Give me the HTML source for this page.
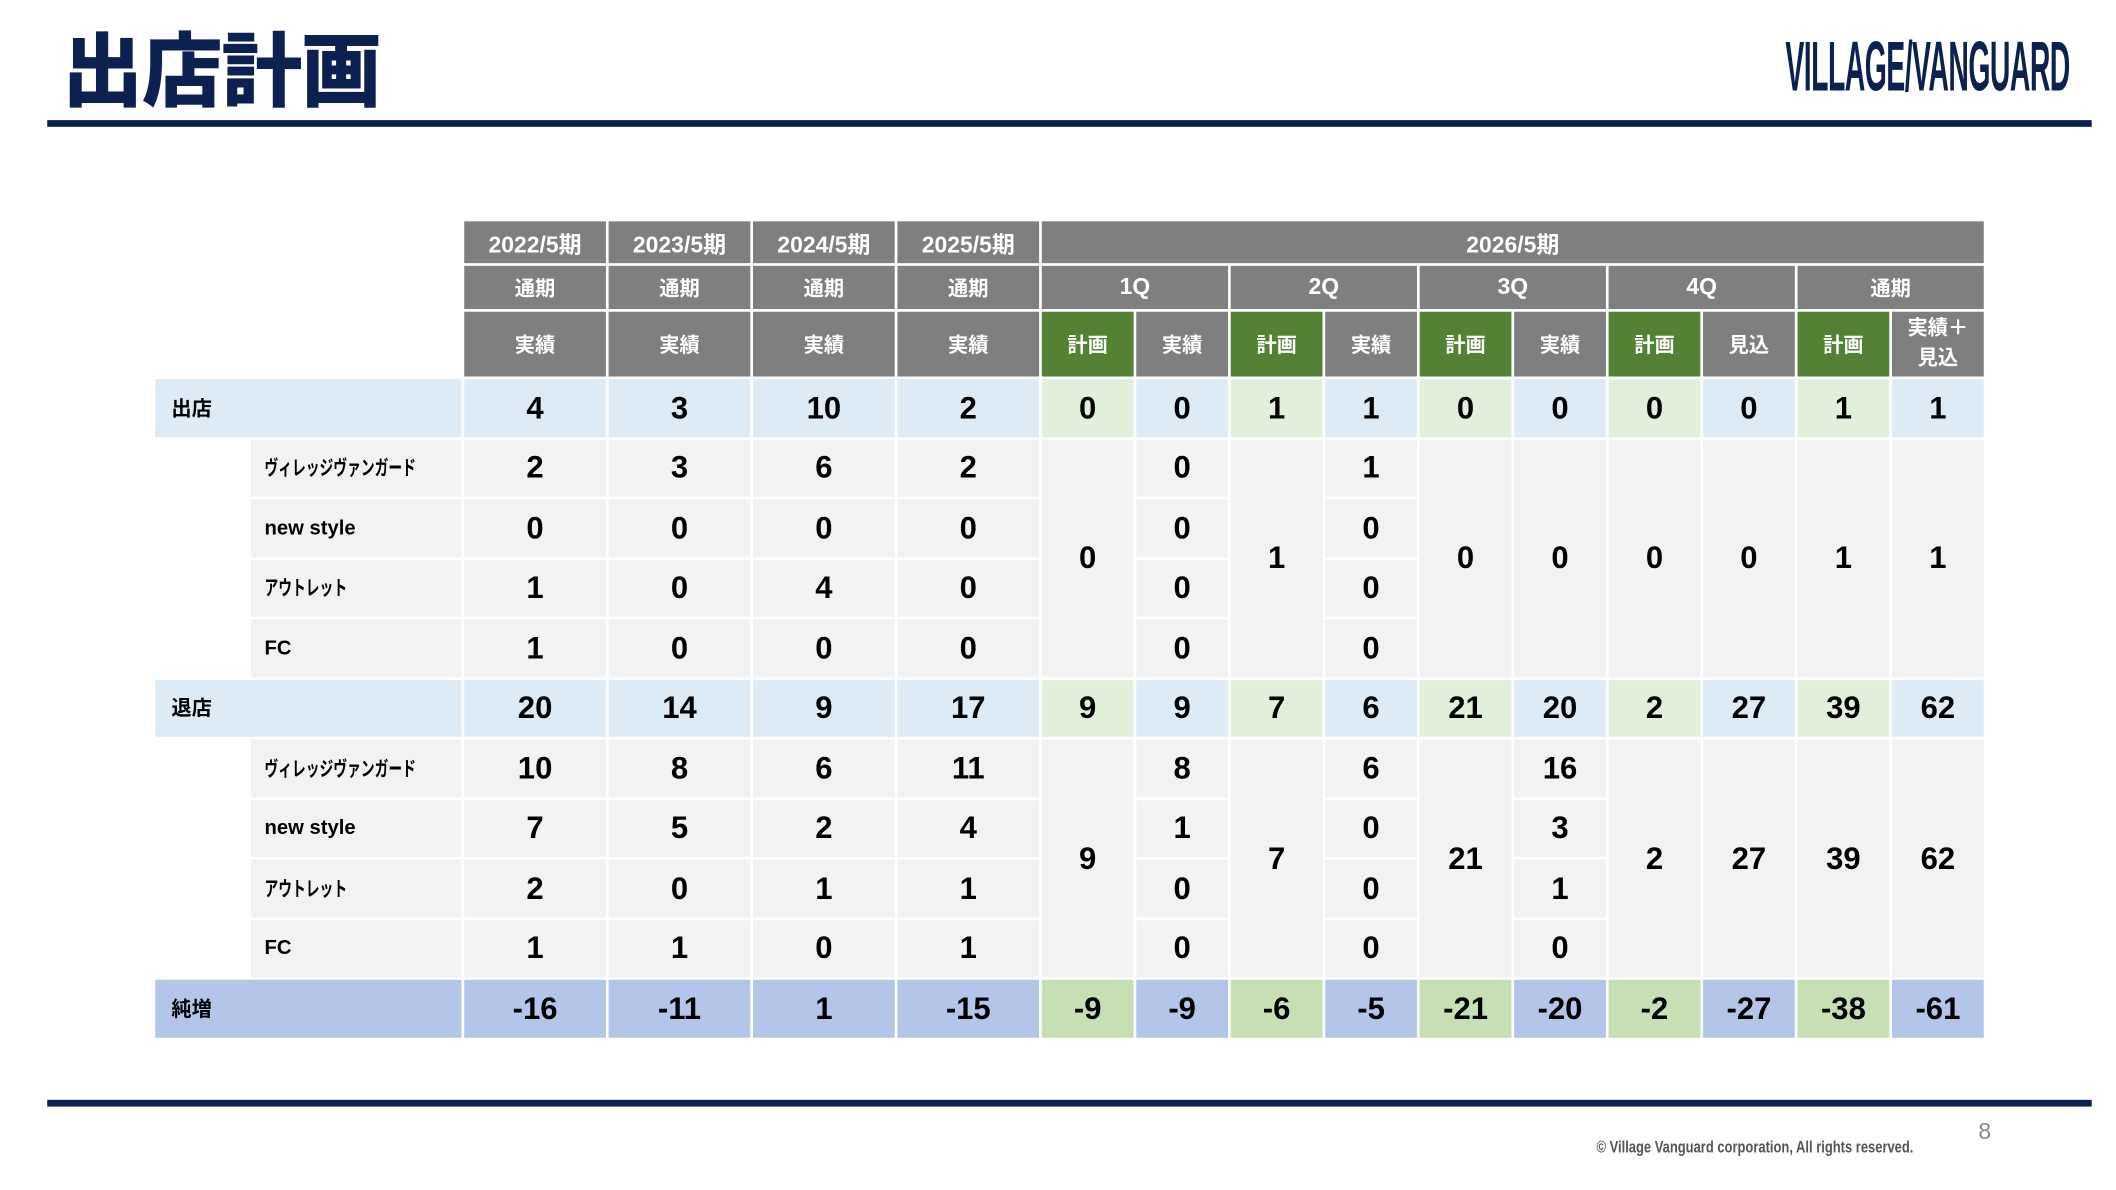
<!DOCTYPE html>
<html><head><meta charset="utf-8">
<style>
html,body{margin:0;padding:0;background:#fff;width:2116px;height:1190px;overflow:hidden}
#w{position:absolute;left:0;top:0;width:1568px;height:882px;transform:scale(1.34949);transform-origin:0 0;font-family:"Liberation Sans","Noto Sans CJK JP",sans-serif}
.title{position:absolute;left:46px;top:20px;font-size:60px;line-height:68px;font-weight:900;color:#0c2150;letter-spacing:-1px}
.rule{position:absolute;left:35px;width:1515px;height:5px;background:#0c2150}
.logo{position:absolute;left:1323px;top:22px;font-size:52px;line-height:56px;font-weight:bold;color:#0c2150;transform:scaleX(0.405);transform-origin:0 0;white-space:nowrap;letter-spacing:-1px}
table{position:absolute;left:113px;top:162px;border-collapse:separate;border-spacing:2px;table-layout:fixed;width:1358px}
td{padding:0;text-align:center;vertical-align:middle;font-weight:bold;color:#000;font-size:23px;overflow:visible}
.h{background:#7f7f7f;color:#fff;font-size:17px}
.hs{font-size:15px}
.g{background:#548235;color:#fff;font-size:15px}
.lb{background:#ddebf7}
.lg{background:#e2efda}
.s{background:#f2f2f2}
.nb{background:#b4c6e7}
.ng{background:#c6e0b4}
.lab{text-align:left;padding-left:12px;font-size:15px}
.sub{text-align:left;padding-left:10px;font-size:15px;font-weight:bold;white-space:nowrap}
.k{display:inline-block;width:130px;white-space:nowrap;transform:scaleX(0.68);transform-origin:0 50%}
.d td{height:42.5px}
</style></head><body><div id="w">
<div class="title">出店計画</div>
<div class="logo">VILLAGE/VANGUARD</div>
<div class="rule" style="top:89px"></div>
<table>
<colgroup><col style="width:69px"><col style="width:156px"><col style="width:105px"><col style="width:105px"><col style="width:105px"><col style="width:105px"><col style="width:68px"><col style="width:68px"><col style="width:68px"><col style="width:68px"><col style="width:68px"><col style="width:68px"><col style="width:68px"><col style="width:68px"><col style="width:68px"><col style="width:68px"></colgroup>
<tr style="height:31px"><td colspan="2" rowspan="3"></td><td class="h">2022/5期</td><td class="h">2023/5期</td><td class="h">2024/5期</td><td class="h">2025/5期</td><td class="h" colspan="10">2026/5期</td></tr>
<tr style="height:32px"><td class="h hs">通期</td><td class="h hs">通期</td><td class="h hs">通期</td><td class="h hs">通期</td><td class="h" colspan="2">1Q</td><td class="h" colspan="2">2Q</td><td class="h" colspan="2">3Q</td><td class="h" colspan="2">4Q</td><td class="h hs" colspan="2">通期</td></tr>
<tr style="height:48px"><td class="h hs">実績</td><td class="h hs">実績</td><td class="h hs">実績</td><td class="h hs">実績</td><td class="g">計画</td><td class="h hs">実績</td><td class="g">計画</td><td class="h hs">実績</td><td class="g">計画</td><td class="h hs">実績</td><td class="g">計画</td><td class="h hs">見込</td><td class="g">計画</td><td class="h hs" style="line-height:22px">実績＋<br>見込</td></tr>
<tr class="d"><td class="lb lab" colspan="2">出店</td><td class="lb">4</td><td class="lb">3</td><td class="lb">10</td><td class="lb">2</td><td class="lg">0</td><td class="lb">0</td><td class="lg">1</td><td class="lb">1</td><td class="lg">0</td><td class="lb">0</td><td class="lg">0</td><td class="lb">0</td><td class="lg">1</td><td class="lb">1</td></tr>
<tr class="d"><td></td><td class="s sub"><span class="k">ヴィレッジヴァンガード</span></td><td class="s">2</td><td class="s">3</td><td class="s">6</td><td class="s">2</td><td class="s" rowspan="4">0</td><td class="s">0</td><td class="s" rowspan="4">1</td><td class="s">1</td><td class="s" rowspan="4">0</td><td class="s" rowspan="4">0</td><td class="s" rowspan="4">0</td><td class="s" rowspan="4">0</td><td class="s" rowspan="4">1</td><td class="s" rowspan="4">1</td></tr>
<tr class="d"><td></td><td class="s sub">new style</td><td class="s">0</td><td class="s">0</td><td class="s">0</td><td class="s">0</td><td class="s">0</td><td class="s">0</td></tr>
<tr class="d"><td></td><td class="s sub"><span class="k">アウトレット</span></td><td class="s">1</td><td class="s">0</td><td class="s">4</td><td class="s">0</td><td class="s">0</td><td class="s">0</td></tr>
<tr class="d"><td></td><td class="s sub">FC</td><td class="s">1</td><td class="s">0</td><td class="s">0</td><td class="s">0</td><td class="s">0</td><td class="s">0</td></tr>
<tr class="d"><td class="lb lab" colspan="2">退店</td><td class="lb">20</td><td class="lb">14</td><td class="lb">9</td><td class="lb">17</td><td class="lg">9</td><td class="lb">9</td><td class="lg">7</td><td class="lb">6</td><td class="lg">21</td><td class="lb">20</td><td class="lg">2</td><td class="lb">27</td><td class="lg">39</td><td class="lb">62</td></tr>
<tr class="d"><td></td><td class="s sub"><span class="k">ヴィレッジヴァンガード</span></td><td class="s">10</td><td class="s">8</td><td class="s">6</td><td class="s">11</td><td class="s" rowspan="4">9</td><td class="s">8</td><td class="s" rowspan="4">7</td><td class="s">6</td><td class="s" rowspan="4">21</td><td class="s">16</td><td class="s" rowspan="4">2</td><td class="s" rowspan="4">27</td><td class="s" rowspan="4">39</td><td class="s" rowspan="4">62</td></tr>
<tr class="d"><td></td><td class="s sub">new style</td><td class="s">7</td><td class="s">5</td><td class="s">2</td><td class="s">4</td><td class="s">1</td><td class="s">0</td><td class="s">3</td></tr>
<tr class="d"><td></td><td class="s sub"><span class="k">アウトレット</span></td><td class="s">2</td><td class="s">0</td><td class="s">1</td><td class="s">1</td><td class="s">0</td><td class="s">0</td><td class="s">1</td></tr>
<tr class="d"><td></td><td class="s sub">FC</td><td class="s">1</td><td class="s">1</td><td class="s">0</td><td class="s">1</td><td class="s">0</td><td class="s">0</td><td class="s">0</td></tr>
<tr class="d"><td class="nb lab" colspan="2">純増</td><td class="nb">-16</td><td class="nb">-11</td><td class="nb">1</td><td class="nb">-15</td><td class="ng">-9</td><td class="nb">-9</td><td class="ng">-6</td><td class="nb">-5</td><td class="ng">-21</td><td class="nb">-20</td><td class="ng">-2</td><td class="nb">-27</td><td class="ng">-38</td><td class="nb">-61</td></tr>
</table>
<div class="rule" style="top:815px"></div>
<div style="position:absolute;left:1183px;top:843px;font-size:12px;font-weight:bold;color:#555;transform:scaleX(0.8);transform-origin:0 0;white-space:nowrap">© Village Vanguard corporation, All rights reserved.</div>
<div style="position:absolute;left:1466px;top:829px;font-size:17px;color:#888">8</div>
</div></body></html>
